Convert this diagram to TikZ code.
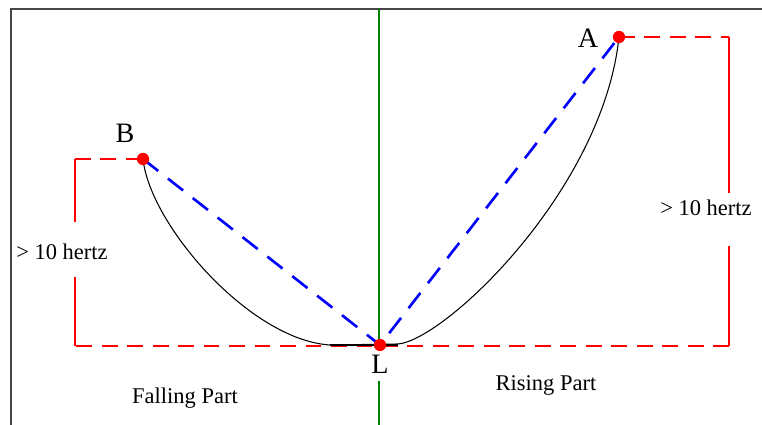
\documentclass[tikz,border=0pt]{standalone}
\usepackage{fontspec}
\setmainfont{Liberation Serif}
\usepackage{xcolor}
\usepackage{tikz}
\usetikzlibrary{calc,backgrounds}
\definecolor{framegray}{RGB}{70,70,70}
\definecolor{axisgreen}{RGB}{0,128,0}
\tikzset{
    dot/.style={circle, fill=red, inner sep=0pt, minimum size=7pt},
    ptname/.style={font=\fontsize{16}{18}\selectfont, inner sep=0pt},
    note/.style={font=\fontsize{12.8}{15}\selectfont, inner sep=0pt},
    redsolid/.style={red, line width=1.1pt},
    reddash/.style={red, line width=1.1pt, dash pattern=on 9pt off 5.5pt},
    bluedash/.style={blue, line width=1.5pt, dash pattern=on 11pt off 7pt},
    curve/.style={black, line width=0.6pt},
    frame/.style={framegray, line width=1.4pt},
}

\begin{document}
\begin{tikzpicture}[x=0.02cm, y=-0.02cm]
    \useasboundingbox (0,0) rectangle (762,425);

    % points of the curve
    \node[dot] (A) at (619,37) {};
    \node[dot] (B) at (143,159) {};
    \node[dot] (L) at (380,345) {};
    \node[ptname] (Alab) at (588,38) {A};
    \node[ptname] (Blab) at (125,133) {B};
    \node[ptname] (Llab) at (380,364) {L};
    \node[note] (hzR) at (706,208) {> 10 hertz};
    \node[note] (hzL) at (62,252) {> 10 hertz};
    \node[note] (fall) at (185,398) {Falling Part};
    \node[note] (rise) at (546,385) {Rising Part};

    \begin{scope}[on background layer]
    \fill[white] (0,0) rectangle (762,425);
    \draw[frame] (11,425) -- (11,9) -- (762,9);

    % vertical axis through L
    \coordinate (axtop) at (379,9);
    \coordinate (axbot) at (379,425);
    \draw[axisgreen, line width=0.7pt] (axtop) -- (axtop |- L.center);
    \draw[axisgreen, line width=0.7pt] (axbot) -- ($(axtop |- Llab.south)+(0,7)$);

    % red measuring brackets
    \coordinate (rtop) at (729,37);
    \coordinate (rbot) at (729,346);
    \coordinate (ltop) at (75,159);
    \coordinate (lbot) at (75,346);
    \draw[reddash] (A.center) -- (rtop);
    \draw[redsolid] (rtop) -- ($(rtop)+(0,156)$);
    \draw[redsolid] ($(rtop)+(0,209)$) -- (rbot);
    \draw[reddash] (rbot) -- (lbot);
    \draw[redsolid] (lbot) -- ($(lbot)+(0,-69)$);
    \draw[redsolid] ($(ltop)+(0,63)$) -- (ltop);
    \draw[reddash] (ltop) -- (B.center);

    % the curve
    \draw[curve] (B.center) .. controls (150,225) and (250,340) .. (330,345)
        -- (398,344) .. controls (445,340) and (603,190) .. (A.center);
    \draw[black, line width=1.3pt] (330,345) -- (398,345);

    % chords
    \draw[bluedash] (B.center) -- (L.center) -- (A.center);
    \end{scope}
\end{tikzpicture}
\end{document}
